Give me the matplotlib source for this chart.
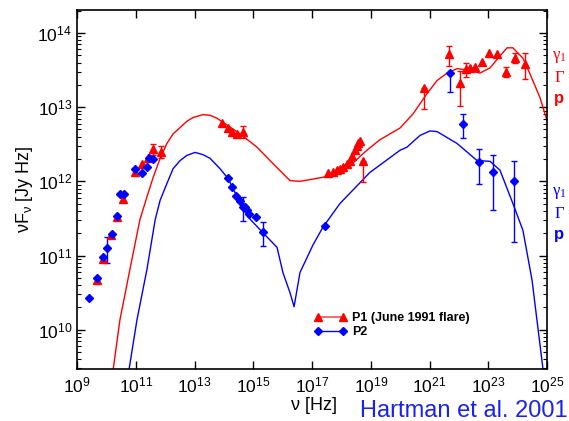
import matplotlib
matplotlib.use("Agg")
import matplotlib.pyplot as plt
import numpy as np
from matplotlib.lines import Line2D

plt.rcParams['font.family'] = ['Liberation Sans', 'DejaVu Sans']
plt.rcParams['mathtext.default'] = 'regular'

# model curves, log10(nu) / log10(nu F_nu)
p1_model_lognu = [10.23, 10.46, 10.80, 11.14, 11.38, 11.59, 11.83, 12.06, 12.27, 12.51,
                  12.74, 12.95, 13.29, 13.53, 13.77, 14.14, 14.55, 15.13, 15.67, 16.25,
                  16.59, 17.17, 17.71, 18.29, 18.87, 19.31, 20.00, 20.44, 20.91, 21.26,
                  21.60, 21.94, 22.28, 22.72, 23.06, 23.40, 23.64, 23.84, 24.18, 24.42,
                  24.76, 25.00, 25.20]
p1_model_logf = [9.46, 10.13, 10.81, 11.48, 11.79, 12.05, 12.31, 12.51, 12.64, 12.725,
                 12.81, 12.86, 12.90, 12.89, 12.85, 12.75, 12.64, 12.46, 12.24, 12.01,
                 12.00, 12.04, 12.08, 12.21, 12.42, 12.56, 12.72, 12.91, 13.18, 13.36,
                 13.46, 13.52, 13.50, 13.46, 13.53, 13.69, 13.80, 13.80, 13.66, 13.45,
                 13.13, 12.82, 12.50]

p2_model_lognu = [10.77, 11.04, 11.38, 11.66, 11.83, 12.06, 12.27, 12.51, 12.74, 13.02,
                  13.29, 13.53, 13.87, 14.14, 14.45, 14.82, 15.30, 15.81, 16.01, 16.25,
                  16.39, 16.59, 17.03, 17.37, 17.95, 18.29, 18.97, 20.00, 20.23, 20.68,
                  21.02, 21.26, 21.94, 22.62, 23.06, 23.40, 23.84, 24.18, 24.49, 24.86]
p2_model_logf = [9.46, 10.13, 10.81, 11.48, 11.745, 11.97, 12.17, 12.28, 12.35, 12.39,
                 12.36, 12.31, 12.17, 12.04, 11.79, 11.52, 11.32, 11.11, 10.77, 10.50,
                 10.31, 10.77, 11.14, 11.38, 11.70, 11.84, 12.12, 12.42, 12.46, 12.62,
                 12.68, 12.67, 12.51, 12.28, 12.27, 12.15, 11.70, 11.34, 10.67, 9.48]

# P1 observations (June 1991 flare); err_lo / err_hi in log10, nan = no bar
p1_lognu = [9.68, 9.89, 10.16, 10.36, 10.57, 10.97, 11.21, 11.42, 11.59, 11.86,
            13.94, 14.14, 14.28, 14.45, 14.65,
            17.54, 17.71, 17.85, 17.95, 18.06, 18.19, 18.29, 18.36, 18.46, 18.53, 18.57, 18.63, 18.74,
            20.81, 21.66, 22.04, 22.24, 22.38, 22.55, 22.79, 23.03, 23.30, 23.60, 23.91, 24.25]
p1_logf = [10.67, 10.95, 11.28, 11.52, 11.76, 12.12, 12.24, 12.31, 12.44, 12.40,
           12.78, 12.72, 12.66, 12.64, 12.66,
           12.11, 12.12, 12.15, 12.16, 12.19, 12.23, 12.28, 12.34, 12.42, 12.47, 12.52, 12.55, 12.28,
           13.26, 13.72, 13.33, 13.52, 13.53, 13.54, 13.61, 13.73, 13.72, 13.48, 13.66, 13.58]
p1_lo = [np.nan] * 8 + [12.35, 12.32] + [np.nan] * 4 + [12.58] + [np.nan] * 12 + [11.99] + \
        [12.98, 13.56, 13.02, 13.40, np.nan, np.nan, np.nan, np.nan, np.nan, 13.41, 13.60, 13.38]
p1_hi = [np.nan] * 8 + [12.51, 12.48] + [np.nan] * 4 + [12.75] + [np.nan] * 12 + [12.28] + \
        [13.26, 13.83, 13.49, 13.60, np.nan, np.nan, np.nan, np.nan, np.nan, 13.54, 13.73, 13.73]

# P2 observations
p2_lognu = [9.41, 9.68, 9.89, 10.02, 10.19, 10.36, 10.46, 10.60, 10.97, 11.21, 11.38, 11.45, 11.59,
            14.14, 14.28, 14.41, 14.55, 14.65, 14.72, 14.79, 14.86, 15.09, 15.33,
            17.44, 21.70, 22.14, 22.69, 23.16, 23.88]
p2_logf = [10.43, 10.70, 10.98, 11.10, 11.29, 11.53, 11.83, 11.83, 12.16, 12.11, 12.20, 12.32, 12.30,
           12.04, 11.92, 11.80, 11.73, 11.66, 11.65, 11.61, 11.56, 11.52, 11.32,
           11.40, 13.46, 12.77, 12.26, 12.12, 12.00]
p2_lo = [np.nan] * 3 + [10.90] + [np.nan] * 13 + [11.46] + [np.nan] * 4 + [11.13] + \
        [np.nan, 13.21, 12.58, 11.96, 11.61, 11.18]
p2_hi = [np.nan] * 3 + [11.25] + [np.nan] * 13 + [11.79] + [np.nan] * 4 + [11.45] + \
        [np.nan, 13.46, 12.91, 12.44, 12.35, 12.28]

RED = '#ff0000'
BLUE = '#0000ff'

fig = plt.figure(figsize=(5.69, 4.21), dpi=100)
ax = fig.add_axes([77 / 569, 52 / 421, 470 / 569, 359 / 421])


def draw(lognu, logf, lo, hi, color, marker, ms):
    nu = 10 ** np.array(lognu)
    f = 10 ** np.array(logf)
    lo = np.array(lo)
    hi = np.array(hi)
    has = ~np.isnan(lo)
    yerr = np.vstack([f[has] - 10 ** lo[has], 10 ** hi[has] - f[has]])
    ax.errorbar(nu[has], f[has], yerr=yerr, fmt='none', ecolor=color,
                elinewidth=1, capsize=2.5, capthick=1, zorder=3)
    ax.plot(nu, f, ls='none', marker=marker, ms=ms, color=color,
            mec=color, zorder=4)


ax.plot(10 ** np.array(p1_model_lognu), 10 ** np.array(p1_model_logf),
        color=RED, lw=1, zorder=2)
ax.plot(10 ** np.array(p2_model_lognu), 10 ** np.array(p2_model_logf),
        color=BLUE, lw=1, zorder=2)
draw(p1_lognu, p1_logf, p1_lo, p1_hi, RED, '^', 5.5)
draw(p2_lognu, p2_logf, p2_lo, p2_hi, BLUE, 'D', 4.5)

ax.set_xscale('log')
ax.set_yscale('log')
ax.set_xlim(1e9, 1e25)
ax.set_ylim(10 ** 9.47, 10 ** 14.31)
ax.set_xticks([10.0 ** k for k in range(9, 26, 2)])
ax.xaxis.set_minor_locator(matplotlib.ticker.NullLocator())
ax.set_yticks([10.0 ** k for k in range(10, 15)])
ax.tick_params(which='both', direction='in', top=True, right=True, labelsize=12.5,
               colors='black')
ax.tick_params(which='major', length=6, width=1)
ax.tick_params(which='minor', length=3, width=0.8)
ax.tick_params(axis='x', pad=5)
for s in ax.spines.values():
    s.set_linewidth(1.2)

ax.set_ylabel(r'$\nu$F$_\nu$ [Jy Hz]', fontsize=13, labelpad=2)
fig.text(313 / 569, 1 - 405 / 421, r'$\nu$ [Hz]', fontsize=13, ha='center', va='center')
fig.text(360 / 569, 1 - 411 / 421, 'Hartman et al. 2001', fontsize=17,
         color='#1a22f0', ha='left', va='center')

# truncated parameter labels at the right edge
for y, col in [(57, RED), (193, BLUE)]:
    fig.text(552 / 569, 1 - y / 421, r'$\gamma_1$ =', fontsize=12, color=col,
             family='Liberation Serif', va='center')
    fig.text(554 / 569, 1 - (y + 21) / 421, r'$\Gamma$ =', fontsize=12, color=col,
             family='Liberation Serif', va='center')
    fig.text(554 / 569, 1 - (y + 42) / 421, 'p =', fontsize=12, color=col,
             fontweight='bold', va='center')

handles = [Line2D([], [], color='#ff5050', lw=1.2, marker='^', ms=5.5, mfc=RED, mec=RED),
           Line2D([], [], color=BLUE, lw=1, marker='D', ms=4, mfc=BLUE, mec=BLUE)]
leg = ax.legend(handles, ['P1 (June 1991 flare)', 'P2'], numpoints=2,
                loc='upper left', bbox_to_anchor=(308 / 569, 1 - 306 / 421),
                bbox_transform=fig.transFigure, frameon=False,
                prop={'size': 9, 'weight': 'bold'}, handlelength=2.6,
                handletextpad=0.4, labelspacing=0.15, borderpad=0)

fig.savefig('out.png', dpi=100)
